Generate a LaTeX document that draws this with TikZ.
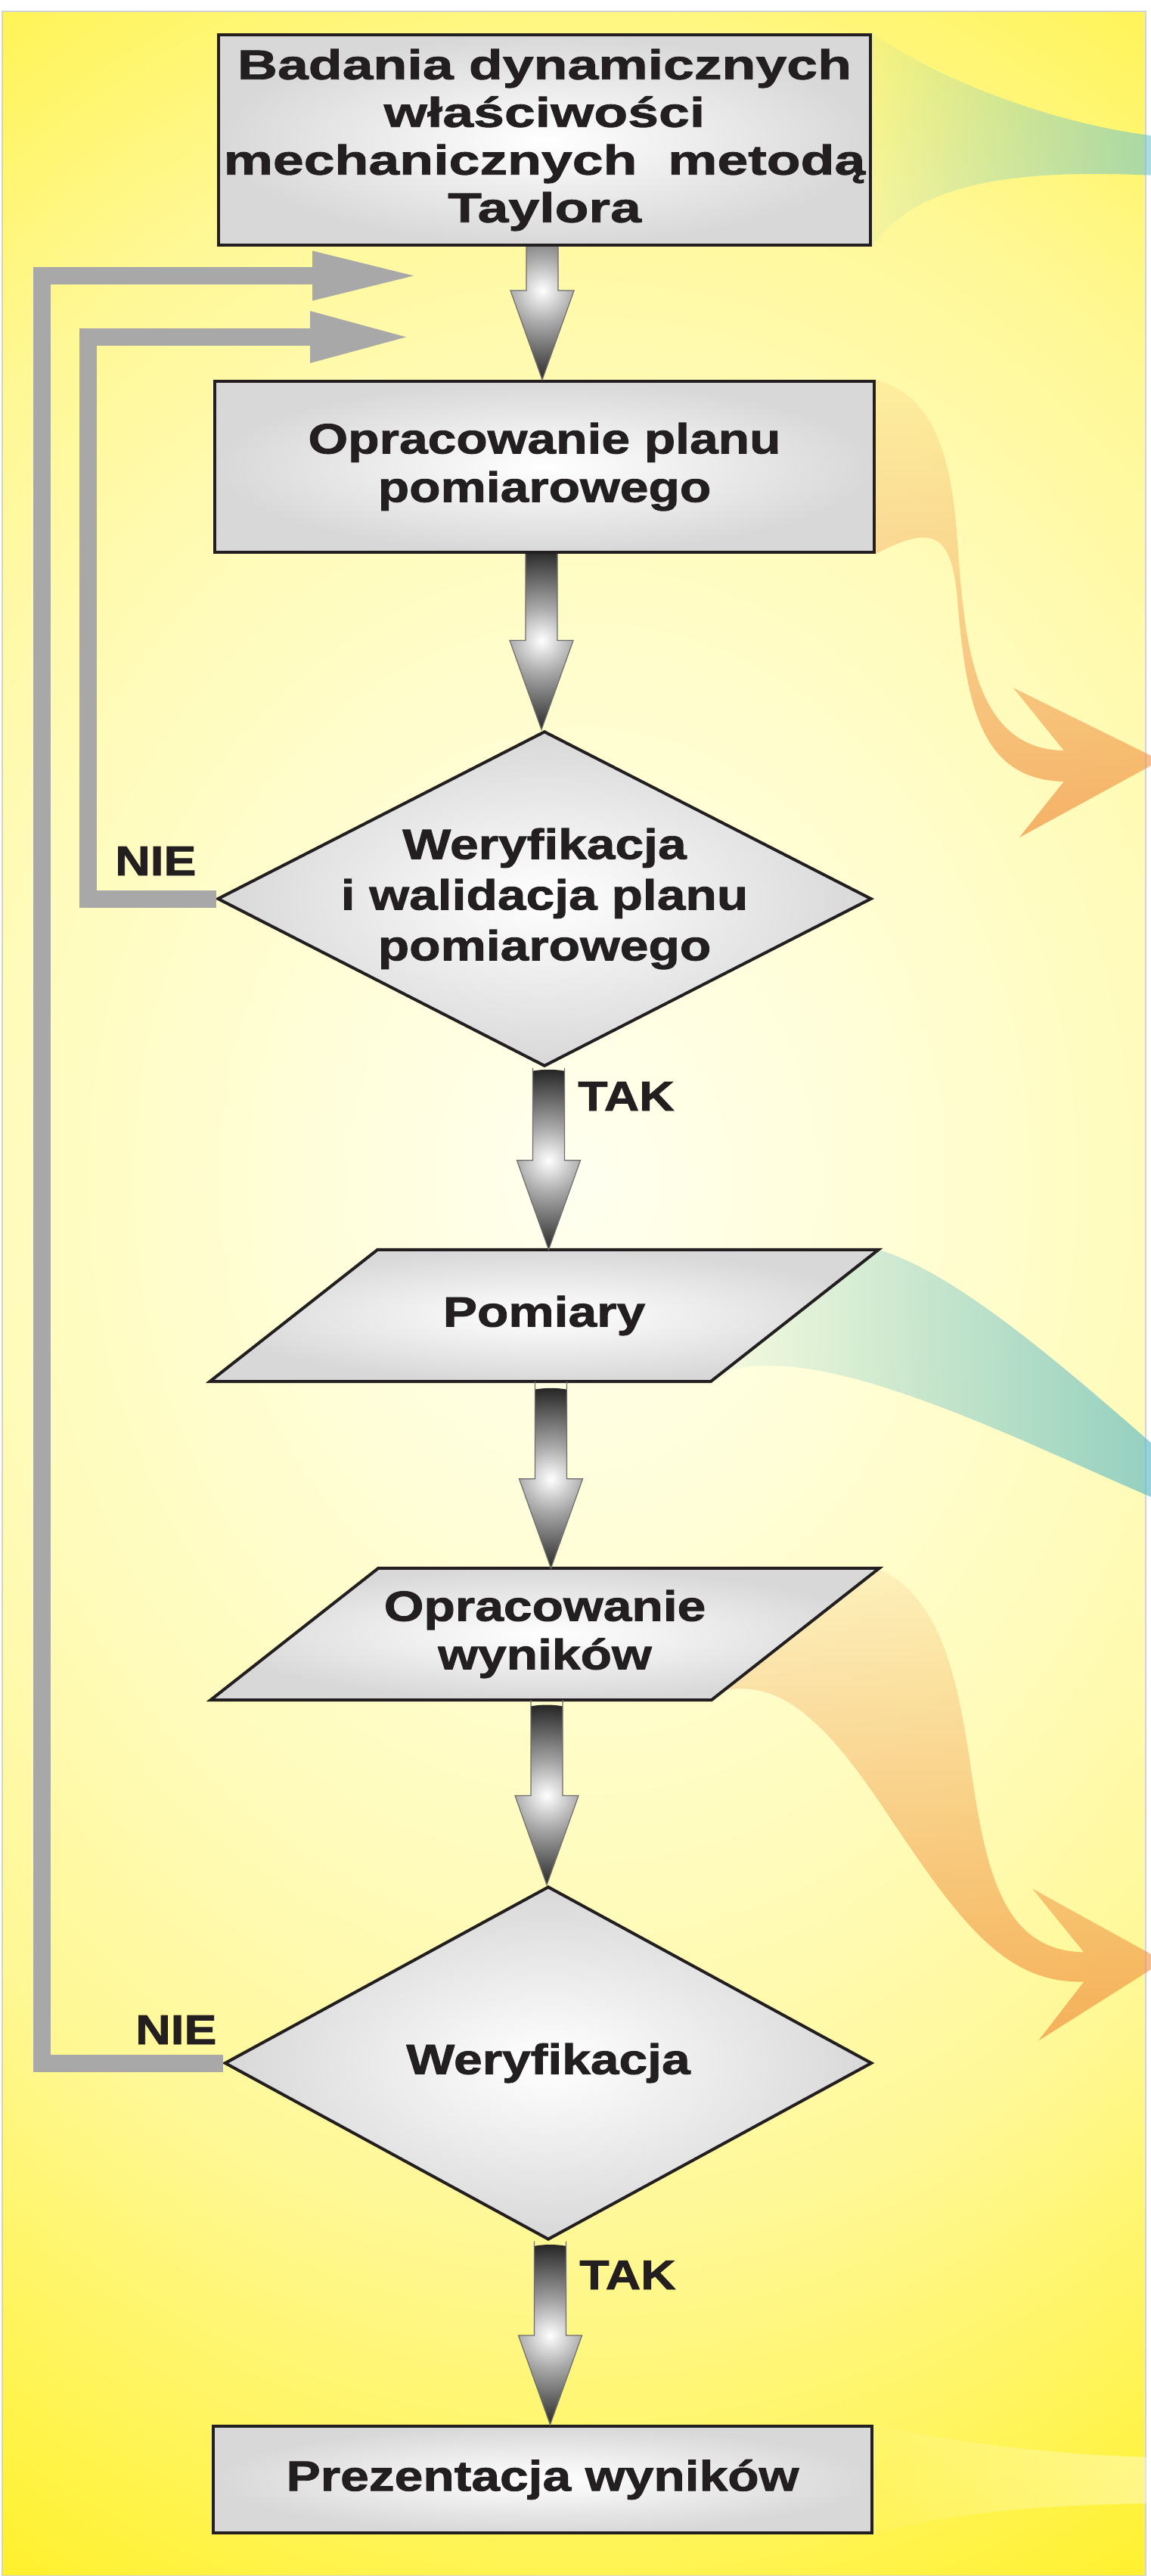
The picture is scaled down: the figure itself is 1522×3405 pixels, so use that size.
\documentclass[tikz,border=0pt]{standalone}
\usepackage{fontspec}
\setmainfont{Liberation Sans}
\newfontfamily\fA{Liberation Sans}[FakeStretch=1.21,FakeBold=1.6]
\newfontfamily\fB{Liberation Sans}[FakeStretch=1.335,FakeBold=1.6]
\newfontfamily\fL{Liberation Sans}[FakeStretch=1.17,FakeBold=1.6]
\usetikzlibrary{shapes.geometric,calc,fadings}

\definecolor{ink}{HTML}{231F20}
\definecolor{boxedge}{HTML}{D8D8D8}
\definecolor{loopgray}{HTML}{A8A8A8}
\definecolor{arredge}{HTML}{6E6E6E}
\definecolor{arrmid}{HTML}{A9A9A9}
\definecolor{arrdark}{HTML}{262626}
\definecolor{bgA}{RGB}{255,255,240}
\definecolor{bgB}{RGB}{255,254,215}
\definecolor{bgC}{RGB}{255,251,185}
\definecolor{bgD}{RGB}{255,248,150}
\definecolor{bgE}{RGB}{255,245,100}
\definecolor{bgF}{RGB}{255,241,48}
\definecolor{swblue}{RGB}{110,195,205}
\definecolor{swteal}{RGB}{90,185,200}
\definecolor{sworange}{RGB}{240,142,62}

\pgfdeclareradialshading{bgshade}{\pgfpoint{0bp}{0bp}}{color(0bp)=(bgA); color(6bp)=(bgB); color(12bp)=(bgC); color(17bp)=(bgD); color(21bp)=(bgE); color(25bp)=(bgF); color(50bp)=(bgF)}
\pgfdeclareradialshading{arrowshade}{\pgfpoint{0bp}{0bp}}{color(0bp)=(white); color(9bp)=(arrmid); color(25bp)=(arrdark); color(50bp)=(arrdark)}
\tikzfading[name=fadeE, left color=transparent!90, right color=transparent!0]
\tikzfading[name=fadeS, top color=transparent!85, bottom color=transparent!0]

\pgfdeclarelayer{bgl}
\pgfdeclarelayer{decol}
\pgfsetlayers{bgl,decol,main}

\newcommand\txtA{\fA\bfseries\fontsize{56pt}{64pt}\selectfont}
\newcommand\txtD{\fA\bfseries\fontsize{56pt}{67pt}\selectfont}
\newcommand\txtB{\fB\bfseries\fontsize{55pt}{63pt}\selectfont}
\newcommand\txtL{\fL\bfseries\fontsize{55pt}{64pt}\selectfont}

\tikzset{
  box/.style={draw=ink, line width=4pt, shade, inner color=white, outer color=boxedge, inner sep=0pt, align=center, text=ink},
  dia/.style={diamond, draw=ink, line width=4pt, shade, inner color=white, outer color=boxedge, inner sep=0pt},
  para/.style={draw=ink, line width=4pt, line join=miter, shade, inner color=white, outer color=boxedge},
  txt/.style={align=center, text=ink, inner sep=0pt},
  lbl/.style={font=\txtL, text=ink, inner sep=0pt},
  loopline/.style={draw=loopgray, line width=23pt},
  arrowedge/.style={draw=arredge, line width=1.2pt, line join=miter},
}

\newcommand\blockarrow[3]{%
  \coordinate (bt) at ($(#2.north)+(#3,0)$);
  \coordinate (bs) at (#1.south -| bt);
  \coordinate (bh) at ($(bt)+(0,-118)$);
  \begin{scope}
    \clip ($(bs)+(-21,0)$) -- ($(bh)+(-21,0)$) -- ($(bh)+(-42,0)$) -- (bt) -- ($(bh)+(42,0)$) -- ($(bh)+(21,0)$) -- ($(bs)+(21,0)$) -- cycle;
    \shade[shading=arrowshade] (bh) circle[radius=120pt];
  \end{scope}
  \draw[arrowedge] ($(bs)+(-21,0)$) -- ($(bh)+(-21,0)$) -- ($(bh)+(-42,0)$) -- (bt) -- ($(bh)+(42,0)$) -- ($(bh)+(21,0)$) -- ($(bs)+(21,0)$);
}

\begin{document}
\begin{tikzpicture}[x=1pt,y=-1pt]
\useasboundingbox (0,0) rectangle (1522,3405);

% ---------- nodes ----------
\node[box, minimum width=862pt, minimum height=278pt, font=\txtB] (b1) at (720,185)
  {Badania dynamicznych\\właściwości\\mechanicznych\ \ metodą\\Taylora};
\node[box, minimum width=872pt, minimum height=226pt, font=\txtA] (b2) at (720,617)
  {Opracowanie planu\\pomiarowego};
\node[dia, minimum width=865pt, minimum height=443pt] (d1) at (720,1188) {};
\node[txt, font=\txtD] (d1t) at (d1.center) {Weryfikacja\\i walidacja planu\\pomiarowego};

\node[minimum width=884pt, minimum height=174pt, inner sep=0pt] (p1) at (719.5,1739) {};
\path[para] ($(p1.north west)+(222,0)$) -- (p1.north east) -- ($(p1.south east)+(-222,0)$) -- (p1.south west) -- cycle;
\node[txt, font=\txtA] (p1t) at (p1.center) {Pomiary};

\node[minimum width=884pt, minimum height=174pt, inner sep=0pt] (p2) at (720.5,2160) {};
\path[para] ($(p2.north west)+(222,0)$) -- (p2.north east) -- ($(p2.south east)+(-222,0)$) -- (p2.south west) -- cycle;
\node[txt, font=\txtA] (p2t) at (p2.center) {Opracowanie\\wyników};

\node[dia, minimum width=856pt, minimum height=467pt] (d2) at (725,2727) {};
\node[txt, font=\txtA] (d2t) at (d2.center) {Weryfikacja};

\node[box, minimum width=871pt, minimum height=141pt, font=\txtA] (b3) at (717.5,3277.5)
  {Prezentacja wyników};

% ---------- block arrows ----------
\blockarrow{b1}{b2}{-3}
\blockarrow{b2}{d1}{-4}
\blockarrow{d1}{p1}{6}
\blockarrow{p1}{p2}{8}
\blockarrow{p2}{d2}{-2}
\blockarrow{d2}{b3}{10}

% ---------- loop-back arrows ----------
\coordinate (lo1) at (55,364.5);
\coordinate (lo1h) at (414,364.5);
\coordinate (lo1t) at (547,364.5);
\draw[loopline] (d2.west) -| (lo1) -- (lo1h);
\fill[loopgray] ($(lo1h)+(-1,-33)$) -- (lo1t) -- ($(lo1h)+(-1,33)$) -- cycle;

\coordinate (li1) at (116,445.5);
\coordinate (li1h) at (411,445.5);
\coordinate (li1t) at (537,445.5);
\draw[loopline] (d1.west) -| (li1) -- (li1h);
\fill[loopgray] ($(li1h)+(-1,-34.5)$) -- (li1t) -- ($(li1h)+(-1,34.5)$) -- cycle;

% ---------- labels ----------
\node[lbl, anchor=base west] (nie1) at (152,1157) {NIE};
\node[lbl, anchor=base west] (tak1) at (764,1468) {TAK};
\node[lbl, anchor=base west] (nie2) at (179,2702) {NIE};
\node[lbl, anchor=base west] (tak2) at (766,3026) {TAK};

% ---------- background ----------
\begin{pgfonlayer}{bgl}
  \fill[bgF] (3,15) rectangle (1515,3405);
  \begin{scope}
    \clip (3,15) rectangle (1515,3405);
    \shade[shading=bgshade] (770,1560) ellipse [x radius=1650pt, y radius=2050pt];
  \end{scope}
  \draw[gray!35, line width=1.5pt] (3,15) rectangle (1515,3405);
\end{pgfonlayer}

% ---------- decorative swooshes ----------
\begin{pgfonlayer}{decol}
\begin{scope}
  \clip (0,0) rectangle (1522,3405);
  \fill[swblue, fill opacity=0.6, path fading=fadeE]
    (b1.north east) .. controls (1250,110) and (1400,165) .. (1530,180)
    -- (1530,232) .. controls (1330,222) and (1210,245) .. (b1.south east) -- cycle;
  \fill[sworange, fill opacity=0.68, path fading=fadeS]
    (b2.north east) .. controls (1225,520) and (1255,580) .. (1265,700)
    .. controls (1275,830) and (1280,990) .. (1407,992)
    -- (1340,909) -- (1535,1005) -- (1348,1107) -- (1407,1033)
    .. controls (1300,1030) and (1278,940) .. (1266,790)
    .. controls (1258,700) and (1230,695) .. (b2.south east) -- cycle;
  \fill[swteal, fill opacity=0.65, path fading=fadeE]
    (p1.north east) .. controls (1260,1680) and (1400,1800) .. (1530,1914)
    -- (1530,1982) .. controls (1360,1910) and (1090,1770) .. (960,1813) -- cycle;
  \fill[sworange, fill opacity=0.68, path fading=fadeS]
    (p2.north east) .. controls (1240,2110) and (1265,2200) .. (1285,2340)
    .. controls (1305,2480) and (1330,2578) .. (1434,2580)
    -- (1366,2496) -- (1540,2592) -- (1374,2697) -- (1434,2619)
    .. controls (1330,2622) and (1270,2540) .. (1178,2403)
    .. controls (1100,2285) and (1040,2220) .. (960,2233) -- cycle;
  \fill[white, fill opacity=0.4, path fading=fadeE]
    (b3.north east) .. controls (1260,3228) and (1400,3246) .. (1530,3248)
    -- (1530,3309) .. controls (1400,3310) and (1250,3320) .. (b3.south east) -- cycle;
\end{scope}
\end{pgfonlayer}
\end{tikzpicture}
\end{document}
